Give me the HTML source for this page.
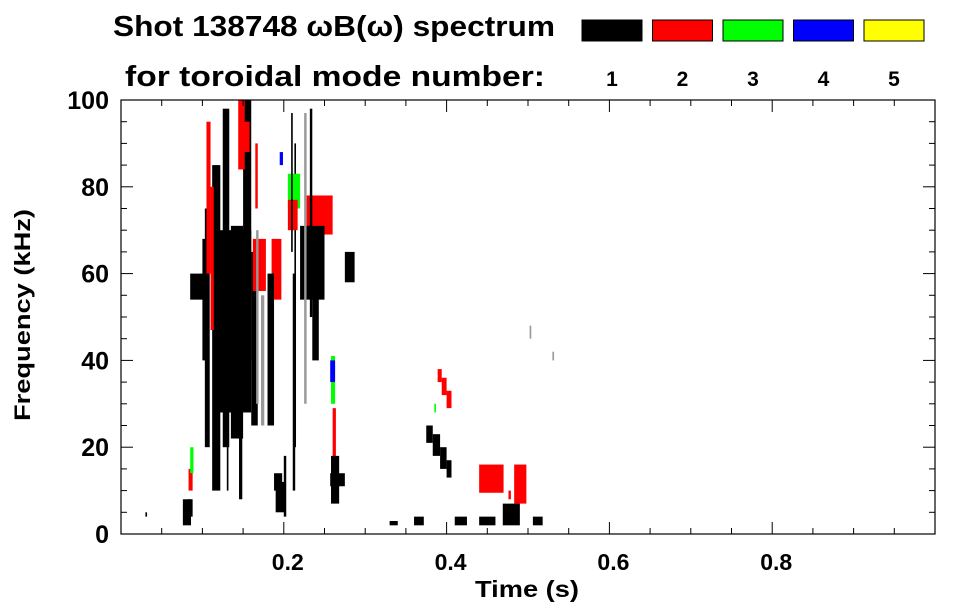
<!DOCTYPE html>
<html><head><meta charset="utf-8"><style>
html,body{margin:0;padding:0;background:#fff;}
svg{display:block;font-family:"Liberation Sans",Arial,sans-serif;font-weight:bold;}
</style></head><body>
<svg id="chart" width="963" height="615" viewBox="0 0 963 615" xmlns="http://www.w3.org/2000/svg">
<text x="113" y="36" font-size="29" textLength="442" lengthAdjust="spacingAndGlyphs">Shot 138748 ωB(ω) spectrum</text>
<text x="125" y="86" font-size="29" textLength="420" lengthAdjust="spacingAndGlyphs">for toroidal mode number:</text>
<g id="legend"></g>
<g id="marks"></g>
<g id="axes"></g>
<text x="527" y="597" font-size="23" text-anchor="middle" textLength="104" lengthAdjust="spacingAndGlyphs">Time (s)</text>
<text transform="translate(30,315) rotate(-90)" font-size="22" text-anchor="middle" textLength="212" lengthAdjust="spacingAndGlyphs">Frequency (kHz)</text>
</svg>
<script>
const modeLabels=["1","2","3","4","5"];
const modeColors=["#000","#f00","#0f0","#00f","#ff0","#999"];
const xTickVals=[0.2,0.4,0.6,0.8];
const xTickLabels=["0.2","0.4","0.6","0.8"];
const yTickVals=[0,20,40,60,80,100];
const yTickLabels=["0","20","40","60","80","100"];
// patches: start time (s), duration (s), freq low (kHz), freq high (kHz), mode index (0..4, 5=weak)
const patchT  =[0.118,0.100,0.103,0.112,0.125,0.135,0.145,0.150,0.160,0.085,0.105,0.110,0.144,0.150,0.162,0.185,0.211,0.213,0.205,0.205,0.195,0.228,0.220,0.235,0.232,0.275,0.258,0.260,0.258,0.257,0.257,0.076,0.082,0.083,0.085,0.190,0.200,0.180,0.172,0.225,0.030,0.389,0.394,0.400,0.375,0.383,0.392,0.400,0.440,0.483,0.469,0.506,0.330,0.360,0.410,0.440,0.502,0.530,0.166,0.130,0.118,0.188,0.209,0.165,0.385,0.476];
const patchDur=[0.042,0.008,0.006,0.010,0.008,0.015,0.004,0.010,0.008,0.018,0.005,0.004,0.008,0.008,0.016,0.012,0.003,0.002,0.015,0.012,0.004,0.032,0.030,0.008,0.003,0.012,0.005,0.004,0.010,0.006,0.018,0.010,0.006,0.005,0.004,0.012,0.003,0.008,0.004,0.003,0.002,0.005,0.006,0.006,0.008,0.009,0.008,0.006,0.030,0.015,0.021,0.012,0.010,0.012,0.015,0.020,0.002,0.002,0.003,0.002,0.002,0.010,0.002,0.003,0.002,0.003];
const patchF0 =[28,40,20,10,20,22,8,40,25,54,60,47,84,88,56,54,10,20,75,70,85,69,54,40,50,58,30,17,7,35,11,2,4,10,14,5,4,25,25,30,4,35,32,29,21,18,15,13,9.5,7,2,2,2,2,2,2,45,40,30,10,20,10,65,75,28,8];
const patchF1 =[70,68,75,85,98,71,60,100,65,60,95,80,100,95,68,68,60,90,83,77,88,78,71,55,98,65,41,29,18,40,14,8,8,15,20,12,18,60,55,97,5,38,36,33,25,23,20,17,16,16,7,4,3,4,4,4,48,42,70,60,40,14,97,90,30,10];
const patchMode=[0,0,0,0,0,0,0,0,0,0,1,1,1,1,1,1,0,0,2,1,3,1,0,0,0,0,2,1,0,3,0,0,0,1,2,0,0,0,5,5,0,1,1,1,0,0,0,0,1,1,0,0,0,0,0,0,5,5,5,0,0,0,0,1,2,1];
const X0=121,X1=935,Y0=534,Y1=100;
const xs=t=>X0+t*(X1-X0)/1.0;
const ys=f=>Y0-f*(Y0-Y1)/100;
const NS="http://www.w3.org/2000/svg";
function mk(tag,attrs,parent){const e=document.createElementNS(NS,tag);for(const k in attrs)e.setAttribute(k,attrs[k]);parent.appendChild(e);return e;}
const marks=document.getElementById('marks');
for(let i=0;i<patchT.length;i++){
  const r=mk('rect',{x:xs(patchT[i]),y:ys(patchF1[i]),width:xs(patchT[i]+patchDur[i])-xs(patchT[i]),height:ys(patchF0[i])-ys(patchF1[i]),fill:modeColors[patchMode[i]]},marks);
  
  
}
const leg=document.getElementById('legend');
for(let i=0;i<modeLabels.length;i++){
  const x=582+i*70.5;
  const b=mk('rect',{x:x,y:20,width:60,height:21,fill:modeColors[i],stroke:'#000','stroke-width':1},leg);
  
  
  const t=mk('text',{x:x+30,y:86,'font-size':21,'text-anchor':'middle'},leg);
  t.textContent=modeLabels[i];
  
  
}
const ax=document.getElementById('axes');
const fr=mk('rect',{x:X0,y:Y1,width:X1-X0,height:Y0-Y1,fill:'none',stroke:'#000','stroke-width':1.2},ax);


for(let k=1;k<20;k++){
  const t=k*0.05,x=xs(t),L=(k%4===0)?12:6;
  mk('line',{x1:x,y1:Y0,x2:x,y2:Y0-L,stroke:'#000'},ax);
  mk('line',{x1:x,y1:Y1,x2:x,y2:Y1+L,stroke:'#000'},ax);
}
for(let k=1;k<20;k++){
  const y=ys(k*5),L=(k%4===0)?12:6;
  mk('line',{x1:X0,y1:y,x2:X0+L,y2:y,stroke:'#000'},ax);
  mk('line',{x1:X1,y1:y,x2:X1-L,y2:y,stroke:'#000'},ax);
}
xTickVals.forEach((v,i)=>{
  const t=mk('text',{x:xs(v)+4,y:Y0+36,'font-size':23,'text-anchor':'middle'},ax);
  t.textContent=xTickLabels[i];
  
  
});
yTickVals.forEach((v,i)=>{
  const t=mk('text',{x:109,y:ys(v)+9,'font-size':25,'text-anchor':'end'},ax);
  t.textContent=yTickLabels[i];
  
  
});
</script>
</body></html>
